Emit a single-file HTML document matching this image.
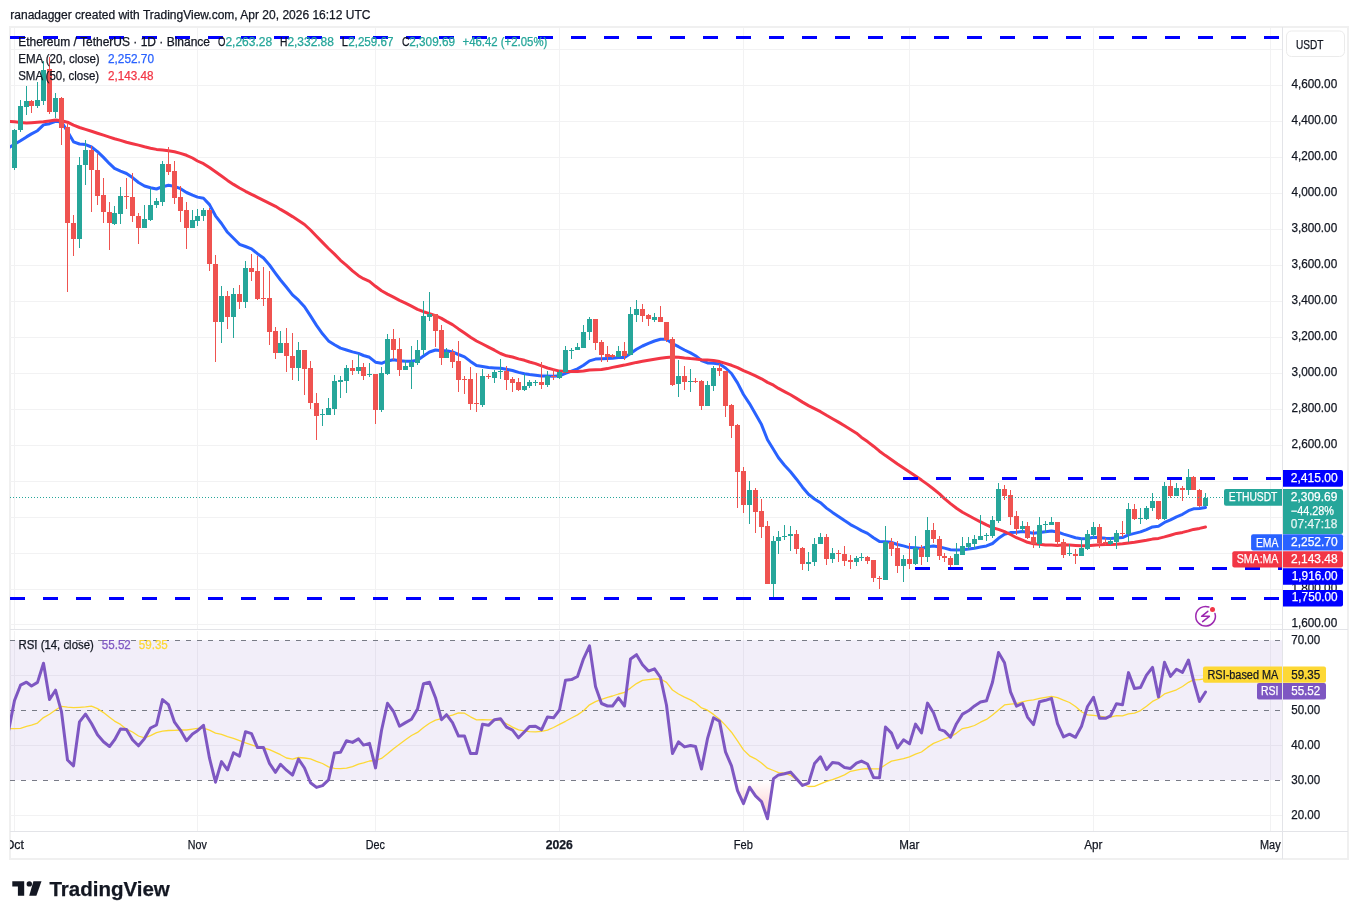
<!DOCTYPE html>
<html><head><meta charset="utf-8"><title>ETHUSDT chart</title>
<style>
html,body{margin:0;padding:0;background:#fff;}
body{width:1358px;height:919px;overflow:hidden;}
svg{display:block;}
text{font-family:'Liberation Sans', Arial, sans-serif;}
</style></head><body>
<svg width="1358" height="919" viewBox="0 0 1358 919">
<rect width="1358" height="919" fill="#ffffff"/>

<text x="10.3" y="19" font-size="12" fill="#131722" stroke="#131722" stroke-width="0.25" textLength="360.2" lengthAdjust="spacingAndGlyphs">ranadagger created with TradingView.com, Apr 20, 2026 16:12 UTC</text>
<rect x="10" y="27" width="1338" height="832" fill="none" stroke="#f0f0f0" stroke-width="2"/>
<defs><clipPath id="mp"><rect x="10" y="28" width="1272" height="601"/></clipPath><clipPath id="rp"><rect x="10" y="631" width="1272" height="200"/></clipPath></defs>
<path d="M10 624.5H1282M10 589.5H1282M10 553.5H1282M10 517.5H1282M10 481.5H1282M10 445.5H1282M10 409.5H1282M10 373.5H1282M10 337.5H1282M10 301.5H1282M10 265.5H1282M10 229.5H1282M10 193.5H1282M10 157.5H1282M10 121.5H1282M10 85.5H1282M10 49.5H1282M14.5 28V629M14.5 631V831M197.5 28V629M197.5 631V831M375.5 28V629M375.5 631V831M559.5 28V629M559.5 631V831M743.5 28V629M743.5 631V831M909.5 28V629M909.5 631V831M1093.5 28V629M1093.5 631V831M1270.5 28V629M1270.5 631V831M10 675.5H1282M10 745.5H1282M10 815.5H1282" stroke="#f2f2f3" stroke-width="1" fill="none"/>
<rect x="10" y="640.2" width="1272" height="140.0" fill="#7e57c2" fill-opacity="0.1"/>
<path d="M10 640.5H1282" stroke="#787b86" stroke-width="1" stroke-dasharray="5 6"/>
<path d="M10 710.5H1282" stroke="#787b86" stroke-width="1" stroke-dasharray="5 6"/>
<path d="M10 780.5H1282" stroke="#787b86" stroke-width="1" stroke-dasharray="5 6"/>
<path d="M10 629.5H1348" stroke="#e3e4e8" stroke-width="1"/>
<path d="M10 831.5H1348" stroke="#e3e4e8" stroke-width="1"/>
<path d="M1282.5 27V859" stroke="#e3e4e8" stroke-width="1"/>
<g clip-path="url(#mp)">
<polyline points="8.5,147.8 14.5,144.3 20.5,140.7 26.5,136.9 31.5,133.9 37.5,130.7 43.5,124.9 49.5,123.7 55.5,121.3 61.5,121.9 67.5,131.5 73.5,141.8 79.5,144.0 85.5,144.6 91.5,147.0 97.5,151.6 103.5,157.4 109.5,163.7 114.5,168.4 120.5,171.1 126.5,173.5 132.5,177.6 138.5,182.5 144.5,186.0 150.5,187.8 156.5,189.0 162.5,186.7 168.5,185.2 174.5,186.4 180.5,188.7 186.5,192.5 192.5,195.1 197.5,197.1 203.5,198.3 209.5,204.6 215.5,215.8 221.5,223.5 227.5,232.3 233.5,238.2 239.5,244.3 245.5,246.5 251.5,248.9 257.5,253.7 263.5,258.0 269.5,265.0 275.5,273.3 280.5,280.0 286.5,287.3 292.5,294.9 298.5,300.2 304.5,306.7 310.5,315.9 316.5,325.4 322.5,333.8 328.5,340.9 334.5,344.7 340.5,348.1 346.5,350.0 352.5,351.9 358.5,353.4 363.5,355.5 369.5,357.3 375.5,362.2 381.5,363.3 387.5,360.9 393.5,359.8 399.5,360.8 405.5,361.3 411.5,361.3 417.5,360.3 423.5,356.0 429.5,352.0 435.5,350.0 441.5,350.7 446.5,350.8 452.5,351.9 458.5,354.5 464.5,356.9 470.5,361.4 476.5,365.5 482.5,366.5 488.5,367.5 494.5,367.9 500.5,368.2 506.5,369.3 512.5,370.5 518.5,372.4 524.5,373.7 529.5,374.5 535.5,375.2 541.5,376.1 547.5,376.1 553.5,376.2 559.5,375.8 565.5,373.4 571.5,371.1 577.5,368.8 583.5,365.3 589.5,360.9 595.5,359.1 601.5,358.7 607.5,358.5 612.5,358.3 618.5,357.6 624.5,357.5 630.5,353.4 636.5,349.2 642.5,346.0 648.5,343.4 654.5,341.0 660.5,339.2 666.5,339.3 672.5,343.6 678.5,346.7 684.5,350.0 690.5,352.9 695.5,355.7 701.5,360.5 707.5,362.9 713.5,363.3 719.5,364.1 725.5,368.0 731.5,373.5 737.5,382.9 743.5,394.5 749.5,403.6 755.5,413.9 761.5,424.6 767.5,439.8 773.5,449.5 778.5,457.8 784.5,465.3 790.5,471.8 796.5,479.2 802.5,487.2 808.5,494.3 814.5,499.0 820.5,502.7 826.5,508.1 832.5,512.4 838.5,516.4 844.5,520.6 850.5,524.6 856.5,527.8 861.5,530.6 867.5,533.4 873.5,537.7 879.5,541.6 885.5,541.7 891.5,542.3 897.5,544.5 903.5,545.9 909.5,547.6 915.5,547.7 921.5,548.5 927.5,546.8 933.5,546.1 939.5,547.0 944.5,548.1 950.5,549.7 956.5,550.1 962.5,549.7 968.5,549.1 974.5,548.2 980.5,547.0 986.5,545.9 992.5,543.5 998.5,538.3 1004.5,534.2 1010.5,532.6 1016.5,532.2 1022.5,531.6 1027.5,532.2 1033.5,533.3 1039.5,532.6 1045.5,531.8 1051.5,530.9 1057.5,532.0 1063.5,534.1 1069.5,535.9 1075.5,537.8 1081.5,538.8 1087.5,538.4 1093.5,537.3 1099.5,537.8 1105.5,538.3 1110.5,538.6 1116.5,538.0 1122.5,537.6 1128.5,534.9 1134.5,533.4 1140.5,531.9 1146.5,529.6 1152.5,526.9 1158.5,526.2 1164.5,522.4 1170.5,519.8 1176.5,516.8 1182.5,514.3 1188.5,510.7 1193.5,508.8 1199.5,508.6 1205.5,507.5" fill="none" stroke="#2962ff" stroke-width="3" stroke-linejoin="round" stroke-linecap="round"/>
<polyline points="8.5,121.3 14.5,121.7 20.5,122.6 26.5,123.1 31.5,122.7 37.5,122.2 43.5,121.8 49.5,120.9 55.5,119.9 61.5,120.7 67.5,122.2 73.5,125.2 79.5,127.5 85.5,129.4 91.5,131.3 97.5,133.2 103.5,135.2 109.5,137.1 114.5,138.7 120.5,140.4 126.5,142.3 132.5,143.7 138.5,145.1 144.5,146.8 150.5,148.2 156.5,149.4 162.5,150.1 168.5,150.8 174.5,151.8 180.5,153.4 186.5,155.3 192.5,158.0 197.5,161.0 203.5,163.7 209.5,167.6 215.5,171.8 221.5,176.0 227.5,180.4 233.5,184.4 239.5,188.0 245.5,191.3 251.5,194.3 257.5,197.3 263.5,200.3 269.5,203.3 275.5,206.3 280.5,209.4 286.5,212.9 292.5,216.6 298.5,220.5 304.5,224.5 310.5,230.0 316.5,236.2 322.5,242.4 328.5,248.5 334.5,254.1 340.5,260.3 346.5,265.4 352.5,270.9 358.5,275.7 363.5,278.7 369.5,281.4 375.5,286.3 381.5,290.8 387.5,294.1 393.5,297.2 399.5,300.4 405.5,303.2 411.5,306.2 417.5,309.3 423.5,311.7 429.5,313.6 435.5,315.6 441.5,318.4 446.5,321.4 452.5,324.6 458.5,328.9 464.5,333.0 470.5,337.2 476.5,341.0 482.5,344.0 488.5,347.1 494.5,350.2 500.5,353.5 506.5,355.8 512.5,357.0 518.5,358.9 524.5,360.3 529.5,362.0 535.5,363.6 541.5,365.9 547.5,368.0 553.5,369.6 559.5,371.1 565.5,371.4 571.5,371.4 577.5,371.5 583.5,371.0 589.5,370.0 595.5,369.8 601.5,369.6 607.5,368.6 612.5,367.4 618.5,366.2 624.5,365.1 630.5,363.8 636.5,362.4 642.5,361.3 648.5,360.3 654.5,359.3 660.5,358.3 666.5,357.6 672.5,357.1 678.5,357.2 684.5,358.0 690.5,358.6 695.5,358.9 701.5,359.7 707.5,360.1 713.5,360.5 719.5,361.6 725.5,363.4 731.5,365.3 737.5,367.6 743.5,370.7 749.5,373.2 755.5,375.9 761.5,378.8 767.5,382.4 773.5,385.2 778.5,388.4 784.5,391.6 790.5,394.8 796.5,398.4 802.5,402.1 808.5,405.6 814.5,408.7 820.5,411.7 826.5,415.3 832.5,418.7 838.5,422.1 844.5,425.8 850.5,429.5 856.5,433.2 861.5,437.4 867.5,441.6 873.5,446.2 879.5,451.2 885.5,455.6 891.5,459.7 897.5,464.0 903.5,468.0 909.5,472.1 915.5,476.1 921.5,480.1 927.5,484.4 933.5,489.0 939.5,493.8 944.5,498.6 950.5,503.6 956.5,508.2 962.5,512.3 968.5,515.5 974.5,518.7 980.5,521.8 986.5,524.9 992.5,527.7 998.5,529.4 1004.5,531.6 1010.5,534.5 1016.5,537.7 1022.5,540.1 1027.5,542.3 1033.5,543.8 1039.5,544.2 1045.5,544.9 1051.5,545.1 1057.5,545.4 1063.5,544.8 1069.5,545.0 1075.5,545.4 1081.5,545.7 1087.5,545.7 1093.5,545.2 1099.5,544.8 1105.5,544.4 1110.5,544.4 1116.5,544.3 1122.5,543.8 1128.5,542.9 1134.5,542.2 1140.5,541.3 1146.5,540.3 1152.5,539.1 1158.5,538.4 1164.5,536.9 1170.5,535.2 1176.5,533.4 1182.5,532.4 1188.5,530.9 1193.5,529.4 1199.5,528.4 1205.5,527.0" fill="none" stroke="#f23645" stroke-width="3" stroke-linejoin="round" stroke-linecap="round"/>
<path d="M14.5 129V170M20.5 100V132M26.5 86V115M37.5 82V108M43.5 61V105M55.5 93V118M79.5 157V248M85.5 140V185M114.5 206V225M120.5 187V224M144.5 205V228M150.5 188V221M156.5 198V208M162.5 161V206M192.5 210V228M197.5 209V226M203.5 208V221M221.5 286V343M233.5 288V338M245.5 261V308M280.5 331V353M298.5 342V381M322.5 409V426M328.5 398V415M334.5 375V415M340.5 376V398M346.5 365V393M358.5 354V374M369.5 363V377M381.5 367V412M387.5 334V375M405.5 360V370M411.5 346V389M417.5 340V365M423.5 301V355M429.5 292V321M446.5 348V358M482.5 369V407M494.5 370V383M500.5 359V379M524.5 374V391M529.5 380V388M535.5 380V386M547.5 371V387M559.5 370V379M565.5 346V373M571.5 348V359M577.5 343V350M583.5 325V348M589.5 317V340M618.5 346V357M630.5 307V355M636.5 300V322M654.5 313V322M678.5 360V397M690.5 369V392M707.5 381V406M713.5 366V391M749.5 481V524M773.5 536V597M778.5 531V554M784.5 525V540M790.5 526V551M808.5 552V571M814.5 538V566M820.5 533V544M832.5 548V563M856.5 556V566M861.5 553V561M885.5 526V580M903.5 555V582M915.5 536V565M927.5 517V562M956.5 543V565M962.5 537V555M968.5 537V550M974.5 535V549M980.5 515V540M986.5 533V541M992.5 516V538M998.5 483V523M1022.5 521V532M1039.5 517V548M1045.5 521V533M1051.5 517V525M1069.5 544V556M1081.5 538V556M1087.5 530V550M1093.5 522V538M1110.5 537V545M1116.5 530V549M1128.5 503V542M1140.5 508V524M1146.5 506V520M1152.5 493V511M1164.5 482V520M1176.5 483V496M1188.5 469V495M1205.5 493V506" stroke="#26a69a" stroke-width="1" fill="none"/>
<path d="M12.0 130h5V168h-5ZM18.0 106h5V130h-5ZM24.0 101h5V107h-5ZM35.0 100h5V106h-5ZM41.0 70h5V101h-5ZM53.0 98h5V112h-5ZM77.0 165h5V239h-5ZM83.0 150h5V165h-5ZM112.0 213h5V224h-5ZM118.0 196h5V214h-5ZM142.0 219h5V228h-5ZM148.0 205h5V220h-5ZM154.0 201h5V205h-5ZM160.0 164h5V202h-5ZM190.0 220h5V228h-5ZM195.0 216h5V221h-5ZM201.0 210h5V216h-5ZM219.0 296h5V322h-5ZM231.0 294h5V317h-5ZM243.0 268h5V302h-5ZM278.0 343h5V353h-5ZM296.0 350h5V368h-5ZM320.0 414h5V415h-5ZM326.0 408h5V415h-5ZM332.0 381h5V409h-5ZM338.0 380h5V382h-5ZM344.0 368h5V381h-5ZM356.0 367h5V371h-5ZM367.0 374h5V375h-5ZM379.0 373h5V410h-5ZM385.0 339h5V374h-5ZM403.0 366h5V370h-5ZM409.0 362h5V367h-5ZM415.0 350h5V363h-5ZM421.0 316h5V350h-5ZM427.0 314h5V317h-5ZM444.0 352h5V358h-5ZM480.0 376h5V405h-5ZM492.0 372h5V378h-5ZM498.0 371h5V372h-5ZM522.0 386h5V390h-5ZM527.0 382h5V386h-5ZM533.0 382h5V383h-5ZM545.0 376h5V385h-5ZM557.0 372h5V378h-5ZM563.0 350h5V372h-5ZM569.0 350h5V351h-5ZM575.0 347h5V350h-5ZM581.0 332h5V348h-5ZM587.0 319h5V332h-5ZM616.0 351h5V357h-5ZM628.0 314h5V355h-5ZM634.0 309h5V315h-5ZM652.0 317h5V320h-5ZM676.0 376h5V384h-5ZM688.0 381h5V382h-5ZM705.0 385h5V406h-5ZM711.0 368h5V386h-5ZM747.0 490h5V505h-5ZM771.0 541h5V584h-5ZM776.0 537h5V541h-5ZM782.0 536h5V537h-5ZM788.0 534h5V536h-5ZM806.0 562h5V564h-5ZM812.0 544h5V562h-5ZM818.0 537h5V544h-5ZM830.0 553h5V559h-5ZM854.0 558h5V562h-5ZM859.0 557h5V558h-5ZM883.0 542h5V580h-5ZM901.0 559h5V566h-5ZM913.0 548h5V564h-5ZM925.0 530h5V557h-5ZM954.0 554h5V565h-5ZM960.0 546h5V555h-5ZM966.0 543h5V547h-5ZM972.0 539h5V544h-5ZM978.0 536h5V540h-5ZM984.0 535h5V536h-5ZM990.0 520h5V536h-5ZM996.0 489h5V521h-5ZM1020.0 526h5V529h-5ZM1037.0 525h5V544h-5ZM1043.0 524h5V525h-5ZM1049.0 522h5V525h-5ZM1067.0 553h5V554h-5ZM1079.0 548h5V556h-5ZM1085.0 534h5V549h-5ZM1091.0 527h5V535h-5ZM1108.0 541h5V544h-5ZM1114.0 533h5V542h-5ZM1126.0 509h5V534h-5ZM1138.0 518h5V519h-5ZM1144.0 508h5V519h-5ZM1150.0 501h5V508h-5ZM1162.0 486h5V519h-5ZM1174.0 488h5V496h-5ZM1186.0 477h5V490h-5ZM1203.0 498h5V506h-5Z" fill="#26a69a"/>
<path d="M31.5 100V113M49.5 57V114M61.5 97V145M67.5 123V292M73.5 215V256M91.5 146V212M97.5 154V205M103.5 178V223M109.5 202V250M126.5 178V209M132.5 173V222M138.5 213V244M168.5 147V175M174.5 161V204M180.5 186V222M186.5 202V249M209.5 208V271M215.5 255V362M227.5 291V329M239.5 285V309M251.5 254V281M257.5 256V300M263.5 267V306M269.5 271V345M275.5 327V359M286.5 328V372M292.5 333V380M304.5 350V395M310.5 361V409M316.5 393V440M352.5 360V375M363.5 363V380M375.5 374V424M393.5 329V360M399.5 338V376M435.5 314V347M441.5 325V365M452.5 349V368M458.5 341V392M464.5 376V394M470.5 367V410M476.5 373V412M488.5 374V379M506.5 366V390M512.5 377V392M518.5 378V391M541.5 362V389M553.5 369V380M595.5 319V350M601.5 340V362M607.5 346V362M612.5 354V358M624.5 342V360M642.5 304V322M648.5 314V326M660.5 306V322M666.5 322V342M672.5 337V386M684.5 366V390M695.5 378V383M701.5 380V410M719.5 364V376M725.5 371V417M731.5 404V438M737.5 424V508M743.5 467V513M755.5 488V533M761.5 499V538M767.5 521V584M796.5 530V554M802.5 547V570M826.5 534V565M838.5 550V562M844.5 546V566M850.5 555V569M867.5 556V564M873.5 560V582M879.5 576V589M891.5 538V556M897.5 541V573M909.5 543V569M921.5 545V565M933.5 523V543M939.5 536V560M944.5 553V562M950.5 556V568M1004.5 485V500M1010.5 490V525M1016.5 511V535M1027.5 522V539M1033.5 530V548M1057.5 522V546M1063.5 539V558M1075.5 549V564M1099.5 524V548M1105.5 538V545M1122.5 521V537M1134.5 504V520M1158.5 501V520M1170.5 478V498M1182.5 486V501M1193.5 476V490M1199.5 489V507" stroke="#ef5350" stroke-width="1" fill="none"/>
<path d="M29.0 101h5V106h-5ZM47.0 69h5V112h-5ZM59.0 98h5V128h-5ZM65.0 127h5V223h-5ZM71.0 223h5V239h-5ZM89.0 150h5V170h-5ZM95.0 170h5V196h-5ZM101.0 195h5V212h-5ZM107.0 212h5V223h-5ZM124.0 196h5V197h-5ZM130.0 197h5V216h-5ZM136.0 216h5V228h-5ZM166.0 164h5V172h-5ZM172.0 171h5V198h-5ZM178.0 197h5V211h-5ZM184.0 210h5V228h-5ZM207.0 210h5V264h-5ZM213.0 264h5V322h-5ZM225.0 296h5V317h-5ZM237.0 294h5V302h-5ZM249.0 268h5V272h-5ZM255.0 271h5V299h-5ZM261.0 298h5V299h-5ZM267.0 298h5V332h-5ZM273.0 331h5V353h-5ZM284.0 343h5V356h-5ZM290.0 356h5V368h-5ZM302.0 350h5V369h-5ZM308.0 368h5V403h-5ZM314.0 403h5V416h-5ZM350.0 368h5V371h-5ZM361.0 367h5V376h-5ZM373.0 374h5V410h-5ZM391.0 339h5V350h-5ZM397.0 349h5V370h-5ZM433.0 314h5V331h-5ZM439.0 330h5V358h-5ZM450.0 352h5V362h-5ZM456.0 361h5V380h-5ZM462.0 379h5V380h-5ZM468.0 379h5V404h-5ZM474.0 403h5V404h-5ZM486.0 376h5V377h-5ZM504.0 371h5V380h-5ZM510.0 379h5V383h-5ZM516.0 382h5V390h-5ZM539.0 382h5V385h-5ZM551.0 376h5V377h-5ZM593.0 319h5V343h-5ZM599.0 342h5V355h-5ZM605.0 354h5V357h-5ZM610.0 355h5V357h-5ZM622.0 351h5V356h-5ZM640.0 309h5V316h-5ZM646.0 315h5V319h-5ZM658.0 317h5V322h-5ZM664.0 322h5V340h-5ZM670.0 339h5V385h-5ZM682.0 376h5V382h-5ZM693.0 381h5V382h-5ZM699.0 381h5V406h-5ZM717.0 368h5V371h-5ZM723.0 371h5V406h-5ZM729.0 405h5V426h-5ZM735.0 425h5V472h-5ZM741.0 471h5V505h-5ZM753.0 490h5V512h-5ZM759.0 511h5V527h-5ZM765.0 526h5V584h-5ZM794.0 534h5V549h-5ZM800.0 548h5V564h-5ZM824.0 537h5V559h-5ZM836.0 553h5V554h-5ZM842.0 554h5V561h-5ZM848.0 560h5V562h-5ZM865.0 557h5V561h-5ZM871.0 560h5V578h-5ZM877.0 578h5V579h-5ZM889.0 542h5V549h-5ZM895.0 548h5V566h-5ZM907.0 559h5V564h-5ZM919.0 548h5V557h-5ZM931.0 530h5V539h-5ZM937.0 539h5V556h-5ZM942.0 556h5V558h-5ZM948.0 558h5V565h-5ZM1002.0 489h5V496h-5ZM1008.0 495h5V517h-5ZM1014.0 516h5V529h-5ZM1025.0 526h5V538h-5ZM1031.0 537h5V544h-5ZM1055.0 522h5V542h-5ZM1061.0 542h5V555h-5ZM1073.0 554h5V556h-5ZM1097.0 527h5V543h-5ZM1103.0 542h5V543h-5ZM1120.0 533h5V534h-5ZM1132.0 509h5V519h-5ZM1156.0 501h5V519h-5ZM1168.0 486h5V496h-5ZM1180.0 488h5V490h-5ZM1191.0 477h5V490h-5ZM1197.0 490h5V506h-5Z" fill="#ef5350"/>
<path d="M10 37.5H1282" stroke="#0000ff" stroke-width="3" stroke-dasharray="15 18"/>
<path d="M903 478.5H1282" stroke="#0000ff" stroke-width="3" stroke-dasharray="15 18"/>
<path d="M915 568.5H1282" stroke="#0000ff" stroke-width="3" stroke-dasharray="15 18"/>
<path d="M10 598.5H1282" stroke="#0000ff" stroke-width="3" stroke-dasharray="15 18"/>
<path d="M10 497.5H1224" stroke="#26a69a" stroke-width="1" stroke-dasharray="1 2"/>
</g>
<g clip-path="url(#rp)">
<defs><linearGradient id="os" gradientUnits="userSpaceOnUse" x1="0" y1="780.2" x2="0" y2="885.2"><stop offset="0" stop-color="#ff3030" stop-opacity="0"/><stop offset="1" stop-color="#ff3030" stop-opacity="0.7"/></linearGradient><clipPath id="osc"><rect x="10" y="780.2" width="1272" height="60"/></clipPath></defs>
<polygon clip-path="url(#osc)" points="8.5,731.2 14.5,700.5 20.5,685.2 26.5,682.2 31.5,686.0 37.5,682.4 43.5,663.2 49.5,699.5 55.5,690.2 61.5,711.9 67.5,760.0 73.5,765.8 79.5,721.8 85.5,714.1 91.5,723.5 97.5,734.8 103.5,741.8 109.5,746.5 114.5,739.9 120.5,729.1 126.5,729.5 132.5,739.7 138.5,745.8 144.5,738.6 150.5,728.0 156.5,725.0 162.5,699.6 168.5,704.7 174.5,722.2 180.5,730.3 186.5,740.8 192.5,733.9 197.5,730.7 203.5,725.3 209.5,758.2 215.5,782.2 221.5,761.6 227.5,769.9 233.5,752.7 239.5,756.1 245.5,731.7 251.5,733.7 257.5,747.6 263.5,747.6 269.5,763.4 275.5,772.3 280.5,764.3 286.5,770.2 292.5,775.1 298.5,759.1 304.5,768.0 310.5,782.8 316.5,787.4 322.5,785.6 328.5,779.8 334.5,752.9 340.5,752.3 346.5,740.8 352.5,742.4 358.5,738.9 363.5,745.1 369.5,743.4 375.5,767.9 381.5,730.5 387.5,703.3 393.5,711.5 399.5,726.2 405.5,722.6 411.5,719.2 417.5,709.1 423.5,683.6 429.5,682.2 435.5,697.7 441.5,719.7 446.5,714.7 452.5,722.6 458.5,736.1 464.5,736.1 470.5,753.4 476.5,753.4 482.5,724.3 488.5,725.3 494.5,719.7 500.5,718.7 506.5,727.2 512.5,730.1 518.5,737.8 524.5,731.8 529.5,726.5 535.5,726.2 541.5,729.8 547.5,716.9 553.5,717.8 559.5,710.0 565.5,680.3 571.5,679.6 577.5,676.5 583.5,658.8 589.5,645.9 595.5,686.5 601.5,703.5 607.5,706.0 612.5,706.0 618.5,697.9 624.5,706.0 630.5,658.9 636.5,654.7 642.5,664.7 648.5,671.1 654.5,668.9 660.5,677.5 666.5,705.3 672.5,753.6 678.5,741.9 684.5,746.9 690.5,745.5 695.5,746.5 701.5,769.0 707.5,738.7 713.5,717.8 719.5,721.2 725.5,751.9 731.5,765.9 737.5,790.7 743.5,803.6 749.5,787.2 755.5,795.9 761.5,801.6 767.5,818.8 773.5,778.6 778.5,774.9 784.5,773.8 790.5,772.1 796.5,778.8 802.5,785.4 808.5,783.2 814.5,763.6 820.5,756.8 826.5,769.4 832.5,762.6 838.5,763.3 844.5,767.4 850.5,768.4 856.5,763.1 861.5,761.1 867.5,764.0 873.5,777.4 879.5,777.7 885.5,727.0 891.5,733.1 897.5,747.9 903.5,739.8 909.5,743.8 915.5,724.1 921.5,732.9 927.5,703.1 933.5,712.7 939.5,729.3 944.5,731.1 950.5,737.2 956.5,723.7 962.5,714.1 968.5,710.8 974.5,705.9 980.5,702.0 986.5,700.8 992.5,682.2 998.5,652.5 1004.5,662.7 1010.5,691.9 1016.5,706.2 1022.5,703.5 1027.5,717.1 1033.5,724.6 1039.5,701.7 1045.5,700.3 1051.5,698.3 1057.5,723.6 1063.5,736.9 1069.5,734.2 1075.5,737.3 1081.5,726.2 1087.5,706.5 1093.5,697.3 1099.5,718.3 1105.5,718.3 1110.5,715.8 1116.5,703.7 1122.5,704.7 1128.5,672.6 1134.5,688.6 1140.5,687.5 1146.5,675.2 1152.5,667.4 1158.5,696.9 1164.5,662.3 1170.5,676.4 1176.5,669.2 1182.5,672.4 1188.5,660.0 1193.5,680.4 1199.5,701.5 1205.5,692.0 1205.5,780.2 8.5,780.2" fill="url(#os)"/>
<polyline points="8.5,728.5 14.5,728.7 20.5,728.3 26.5,726.4 31.5,725.1 37.5,723.1 43.5,717.6 49.5,714.2 55.5,710.0 61.5,706.3 67.5,707.1 73.5,707.6 79.5,707.3 85.5,706.9 91.5,706.2 97.5,708.6 103.5,712.6 109.5,717.2 114.5,721.1 120.5,724.4 126.5,729.2 132.5,732.0 138.5,736.0 144.5,737.9 150.5,735.6 156.5,732.7 162.5,731.1 168.5,730.5 174.5,730.4 180.5,730.0 186.5,730.0 192.5,729.1 197.5,728.4 203.5,728.2 209.5,730.2 215.5,733.2 221.5,734.4 227.5,736.6 233.5,738.4 239.5,740.6 245.5,742.9 251.5,744.9 257.5,746.8 263.5,748.0 269.5,749.6 275.5,752.3 280.5,754.7 286.5,758.0 292.5,759.2 298.5,757.5 304.5,758.0 310.5,758.9 316.5,761.4 322.5,763.5 328.5,766.9 334.5,768.3 340.5,768.6 346.5,768.1 352.5,766.6 358.5,764.2 363.5,762.9 369.5,761.0 375.5,760.5 381.5,758.4 387.5,753.8 393.5,748.7 399.5,744.3 405.5,739.8 411.5,735.5 417.5,732.4 423.5,727.5 429.5,723.3 435.5,720.1 441.5,718.7 446.5,716.6 452.5,715.1 458.5,712.8 464.5,713.2 470.5,716.8 476.5,719.8 482.5,719.6 488.5,719.8 494.5,719.9 500.5,720.5 506.5,723.7 512.5,727.1 518.5,729.9 524.5,730.8 529.5,731.6 535.5,731.9 541.5,731.4 547.5,730.1 553.5,727.5 559.5,724.4 565.5,721.3 571.5,718.0 577.5,714.9 583.5,710.7 589.5,704.8 595.5,701.7 601.5,699.3 607.5,697.4 612.5,696.0 618.5,694.0 624.5,692.3 630.5,688.1 636.5,683.6 642.5,680.4 648.5,679.7 654.5,679.0 660.5,679.0 666.5,682.4 672.5,690.0 678.5,694.0 684.5,697.1 690.5,699.9 695.5,702.8 701.5,707.9 707.5,710.2 713.5,714.4 719.5,719.2 725.5,725.4 731.5,732.2 737.5,740.9 743.5,749.9 749.5,755.8 755.5,758.8 761.5,763.0 767.5,768.2 773.5,770.5 778.5,772.6 784.5,772.9 790.5,775.3 796.5,779.7 802.5,784.2 808.5,786.5 814.5,786.3 820.5,783.9 826.5,781.4 832.5,779.7 838.5,777.4 844.5,774.9 850.5,771.3 856.5,770.2 861.5,769.2 867.5,768.5 873.5,768.9 879.5,768.8 885.5,764.7 891.5,761.1 897.5,759.9 903.5,758.7 909.5,756.9 915.5,754.2 921.5,752.0 927.5,747.4 933.5,743.4 939.5,741.0 944.5,738.9 950.5,736.9 956.5,733.1 962.5,728.6 968.5,727.4 974.5,725.5 980.5,722.2 986.5,719.4 992.5,715.0 998.5,709.9 1004.5,704.9 1010.5,704.1 1016.5,703.6 1022.5,701.8 1027.5,700.7 1033.5,699.8 1039.5,698.3 1045.5,697.3 1051.5,696.4 1057.5,697.7 1063.5,700.2 1069.5,702.5 1075.5,706.5 1081.5,711.7 1087.5,714.9 1093.5,715.3 1099.5,716.1 1105.5,717.2 1110.5,717.1 1116.5,715.6 1122.5,715.8 1128.5,713.8 1134.5,713.1 1140.5,710.6 1146.5,706.2 1152.5,701.4 1158.5,698.5 1164.5,693.9 1170.5,691.8 1176.5,689.8 1182.5,686.5 1188.5,682.3 1193.5,679.8 1199.5,679.6 1205.5,678.7" fill="none" stroke="#fdd835" stroke-width="1.3" stroke-linejoin="round"/>
<polyline points="8.5,731.2 14.5,700.5 20.5,685.2 26.5,682.2 31.5,686.0 37.5,682.4 43.5,663.2 49.5,699.5 55.5,690.2 61.5,711.9 67.5,760.0 73.5,765.8 79.5,721.8 85.5,714.1 91.5,723.5 97.5,734.8 103.5,741.8 109.5,746.5 114.5,739.9 120.5,729.1 126.5,729.5 132.5,739.7 138.5,745.8 144.5,738.6 150.5,728.0 156.5,725.0 162.5,699.6 168.5,704.7 174.5,722.2 180.5,730.3 186.5,740.8 192.5,733.9 197.5,730.7 203.5,725.3 209.5,758.2 215.5,782.2 221.5,761.6 227.5,769.9 233.5,752.7 239.5,756.1 245.5,731.7 251.5,733.7 257.5,747.6 263.5,747.6 269.5,763.4 275.5,772.3 280.5,764.3 286.5,770.2 292.5,775.1 298.5,759.1 304.5,768.0 310.5,782.8 316.5,787.4 322.5,785.6 328.5,779.8 334.5,752.9 340.5,752.3 346.5,740.8 352.5,742.4 358.5,738.9 363.5,745.1 369.5,743.4 375.5,767.9 381.5,730.5 387.5,703.3 393.5,711.5 399.5,726.2 405.5,722.6 411.5,719.2 417.5,709.1 423.5,683.6 429.5,682.2 435.5,697.7 441.5,719.7 446.5,714.7 452.5,722.6 458.5,736.1 464.5,736.1 470.5,753.4 476.5,753.4 482.5,724.3 488.5,725.3 494.5,719.7 500.5,718.7 506.5,727.2 512.5,730.1 518.5,737.8 524.5,731.8 529.5,726.5 535.5,726.2 541.5,729.8 547.5,716.9 553.5,717.8 559.5,710.0 565.5,680.3 571.5,679.6 577.5,676.5 583.5,658.8 589.5,645.9 595.5,686.5 601.5,703.5 607.5,706.0 612.5,706.0 618.5,697.9 624.5,706.0 630.5,658.9 636.5,654.7 642.5,664.7 648.5,671.1 654.5,668.9 660.5,677.5 666.5,705.3 672.5,753.6 678.5,741.9 684.5,746.9 690.5,745.5 695.5,746.5 701.5,769.0 707.5,738.7 713.5,717.8 719.5,721.2 725.5,751.9 731.5,765.9 737.5,790.7 743.5,803.6 749.5,787.2 755.5,795.9 761.5,801.6 767.5,818.8 773.5,778.6 778.5,774.9 784.5,773.8 790.5,772.1 796.5,778.8 802.5,785.4 808.5,783.2 814.5,763.6 820.5,756.8 826.5,769.4 832.5,762.6 838.5,763.3 844.5,767.4 850.5,768.4 856.5,763.1 861.5,761.1 867.5,764.0 873.5,777.4 879.5,777.7 885.5,727.0 891.5,733.1 897.5,747.9 903.5,739.8 909.5,743.8 915.5,724.1 921.5,732.9 927.5,703.1 933.5,712.7 939.5,729.3 944.5,731.1 950.5,737.2 956.5,723.7 962.5,714.1 968.5,710.8 974.5,705.9 980.5,702.0 986.5,700.8 992.5,682.2 998.5,652.5 1004.5,662.7 1010.5,691.9 1016.5,706.2 1022.5,703.5 1027.5,717.1 1033.5,724.6 1039.5,701.7 1045.5,700.3 1051.5,698.3 1057.5,723.6 1063.5,736.9 1069.5,734.2 1075.5,737.3 1081.5,726.2 1087.5,706.5 1093.5,697.3 1099.5,718.3 1105.5,718.3 1110.5,715.8 1116.5,703.7 1122.5,704.7 1128.5,672.6 1134.5,688.6 1140.5,687.5 1146.5,675.2 1152.5,667.4 1158.5,696.9 1164.5,662.3 1170.5,676.4 1176.5,669.2 1182.5,672.4 1188.5,660.0 1193.5,680.4 1199.5,701.5 1205.5,692.0" fill="none" stroke="#7e57c2" stroke-width="3" stroke-linejoin="round" stroke-linecap="round"/>
</g>
<text x="18.2" y="45.5" font-size="12" fill="#131722" stroke="#131722" stroke-width="0.25" textLength="191.8" lengthAdjust="spacingAndGlyphs">Ethereum / TetherUS · 1D · Binance</text>
<text x="218" y="45.5" font-size="12" fill="#131722" stroke="#131722" stroke-width="0.25" textLength="7.4" lengthAdjust="spacingAndGlyphs">O</text>
<text x="225.4" y="45.5" font-size="12" fill="#26a69a" stroke="#26a69a" stroke-width="0.25" textLength="46.7" lengthAdjust="spacingAndGlyphs">2,263.28</text>
<text x="280" y="45.5" font-size="12" fill="#131722" stroke="#131722" stroke-width="0.25" textLength="7.4" lengthAdjust="spacingAndGlyphs">H</text>
<text x="287.4" y="45.5" font-size="12" fill="#26a69a" stroke="#26a69a" stroke-width="0.25" textLength="46.5" lengthAdjust="spacingAndGlyphs">2,332.88</text>
<text x="341.8" y="45.5" font-size="12" fill="#131722" stroke="#131722" stroke-width="0.25" textLength="6.2" lengthAdjust="spacingAndGlyphs">L</text>
<text x="348.2" y="45.5" font-size="12" fill="#26a69a" stroke="#26a69a" stroke-width="0.25" textLength="45.3" lengthAdjust="spacingAndGlyphs">2,259.67</text>
<text x="402" y="45.5" font-size="12" fill="#131722" stroke="#131722" stroke-width="0.25" textLength="7.5" lengthAdjust="spacingAndGlyphs">C</text>
<text x="409.3" y="45.5" font-size="12" fill="#26a69a" stroke="#26a69a" stroke-width="0.25" textLength="45.7" lengthAdjust="spacingAndGlyphs">2,309.69</text>
<text x="462.5" y="45.5" font-size="12" fill="#26a69a" stroke="#26a69a" stroke-width="0.25" textLength="84.8" lengthAdjust="spacingAndGlyphs">+46.42 (+2.05%)</text>
<text x="18.2" y="62.5" font-size="12" fill="#131722" stroke="#131722" stroke-width="0.25" textLength="81.5" lengthAdjust="spacingAndGlyphs">EMA (20, close)</text>
<text x="108" y="62.5" font-size="12" fill="#2962ff" stroke="#2962ff" stroke-width="0.25" textLength="46" lengthAdjust="spacingAndGlyphs">2,252.70</text>
<text x="18.2" y="79.5" font-size="12" fill="#131722" stroke="#131722" stroke-width="0.25" textLength="81" lengthAdjust="spacingAndGlyphs">SMA (50, close)</text>
<text x="108" y="79.5" font-size="12" fill="#f23645" stroke="#f23645" stroke-width="0.25" textLength="45.5" lengthAdjust="spacingAndGlyphs">2,143.48</text>
<text x="18.5" y="649.2" font-size="12" fill="#131722" stroke="#131722" stroke-width="0.25" textLength="75.3" lengthAdjust="spacingAndGlyphs">RSI (14, close)</text>
<text x="101.8" y="649.2" font-size="12" fill="#7e57c2" stroke="#7e57c2" stroke-width="0.25" textLength="29" lengthAdjust="spacingAndGlyphs">55.52</text>
<text x="138.8" y="649.2" font-size="12" fill="#fdd835" stroke="#fdd835" stroke-width="0.25" textLength="29" lengthAdjust="spacingAndGlyphs">59.35</text>
<text x="1291.4" y="627.1" font-size="12" fill="#131722" stroke="#131722" stroke-width="0.25" textLength="45.8" lengthAdjust="spacingAndGlyphs">1,600.00</text>
<text x="1291.4" y="591.9" font-size="12" fill="#131722" stroke="#131722" stroke-width="0.25" textLength="45.8" lengthAdjust="spacingAndGlyphs">1,800.00</text>
<text x="1291.4" y="447.9" font-size="12" fill="#131722" stroke="#131722" stroke-width="0.25" textLength="45.8" lengthAdjust="spacingAndGlyphs">2,600.00</text>
<text x="1291.4" y="411.9" font-size="12" fill="#131722" stroke="#131722" stroke-width="0.25" textLength="45.8" lengthAdjust="spacingAndGlyphs">2,800.00</text>
<text x="1291.4" y="375.9" font-size="12" fill="#131722" stroke="#131722" stroke-width="0.25" textLength="45.8" lengthAdjust="spacingAndGlyphs">3,000.00</text>
<text x="1291.4" y="339.9" font-size="12" fill="#131722" stroke="#131722" stroke-width="0.25" textLength="45.8" lengthAdjust="spacingAndGlyphs">3,200.00</text>
<text x="1291.4" y="303.9" font-size="12" fill="#131722" stroke="#131722" stroke-width="0.25" textLength="45.8" lengthAdjust="spacingAndGlyphs">3,400.00</text>
<text x="1291.4" y="267.9" font-size="12" fill="#131722" stroke="#131722" stroke-width="0.25" textLength="45.8" lengthAdjust="spacingAndGlyphs">3,600.00</text>
<text x="1291.4" y="231.9" font-size="12" fill="#131722" stroke="#131722" stroke-width="0.25" textLength="45.8" lengthAdjust="spacingAndGlyphs">3,800.00</text>
<text x="1291.4" y="195.9" font-size="12" fill="#131722" stroke="#131722" stroke-width="0.25" textLength="45.8" lengthAdjust="spacingAndGlyphs">4,000.00</text>
<text x="1291.4" y="159.9" font-size="12" fill="#131722" stroke="#131722" stroke-width="0.25" textLength="45.8" lengthAdjust="spacingAndGlyphs">4,200.00</text>
<text x="1291.4" y="123.9" font-size="12" fill="#131722" stroke="#131722" stroke-width="0.25" textLength="45.8" lengthAdjust="spacingAndGlyphs">4,400.00</text>
<text x="1291.4" y="87.9" font-size="12" fill="#131722" stroke="#131722" stroke-width="0.25" textLength="45.8" lengthAdjust="spacingAndGlyphs">4,600.00</text>
<text x="1291.4" y="51.9" font-size="12" fill="#131722" stroke="#131722" stroke-width="0.25" textLength="45.8" lengthAdjust="spacingAndGlyphs">4,800.00</text>
<rect x="1286.5" y="31" width="58" height="25.5" rx="5" fill="#fff" stroke="#ebebeb"/>
<text x="1296" y="48.5" font-size="12" fill="#131722" stroke="#131722" stroke-width="0.25" textLength="27.5" lengthAdjust="spacingAndGlyphs">USDT</text>
<path d="M1283 470.1H1341a2 2 0 0 1 2 2V484.8a2 2 0 0 1 -2 2H1283Z" fill="#0000ff"/>
<text x="1290.8" y="482" font-size="12" fill="#fff" stroke="#fff" stroke-width="0.25" textLength="46.8" lengthAdjust="spacingAndGlyphs">2,415.00</text>
<path d="M1283 489.1H1341a2 2 0 0 1 2 2V531.9a2 2 0 0 1 -2 2H1283Z" fill="#26a69a"/>
<text x="1290.8" y="500.9" font-size="12" fill="#fff" stroke="#fff" stroke-width="0.25" textLength="46.5" lengthAdjust="spacingAndGlyphs">2,309.69</text>
<text x="1290.8" y="514.7" font-size="12" fill="#fff" stroke="#fff" stroke-width="0.25" textLength="43.1" lengthAdjust="spacingAndGlyphs">−44.28%</text>
<text x="1290.8" y="528.4" font-size="12" fill="#fff" stroke="#fff" stroke-width="0.25" textLength="46.5" lengthAdjust="spacingAndGlyphs" fill-opacity="0.8">07:47:18</text>
<path d="M1282 489.1V505.7H1226a2 2 0 0 1 -2 -2V491.1a2 2 0 0 1 2 -2Z" fill="#26a69a"/>
<text x="1228.8" y="501.4" font-size="12" fill="#fff" stroke="#fff" stroke-width="0.25" textLength="48.6" lengthAdjust="spacingAndGlyphs">ETHUSDT</text>
<path d="M1283 534.3H1341a2 2 0 0 1 2 2V548.6a2 2 0 0 1 -2 2H1283Z" fill="#2962ff"/>
<text x="1291" y="545.8" font-size="12" fill="#fff" stroke="#fff" stroke-width="0.25" textLength="46.6" lengthAdjust="spacingAndGlyphs">2,252.70</text>
<path d="M1282 534.3V550.6H1253.1a2 2 0 0 1 -2 -2V536.3a2 2 0 0 1 2 -2Z" fill="#2962ff"/>
<text x="1255.9" y="546.5" font-size="12" fill="#fff" stroke="#fff" stroke-width="0.25" textLength="22.5" lengthAdjust="spacingAndGlyphs">EMA</text>
<path d="M1283 551.3H1341a2 2 0 0 1 2 2V565.5a2 2 0 0 1 -2 2H1283Z" fill="#f23645"/>
<text x="1291" y="562.6" font-size="12" fill="#fff" stroke="#fff" stroke-width="0.25" textLength="46.6" lengthAdjust="spacingAndGlyphs">2,143.48</text>
<path d="M1282 551.3V567.5H1234.3a2 2 0 0 1 -2 -2V553.3a2 2 0 0 1 2 -2Z" fill="#f23645"/>
<text x="1236.8" y="563.4" font-size="12" fill="#fff" stroke="#fff" stroke-width="0.25" textLength="41.6" lengthAdjust="spacingAndGlyphs">SMA:MA</text>
<path d="M1283 568.3H1341a2 2 0 0 1 2 2V582.8a2 2 0 0 1 -2 2H1283Z" fill="#0000ff"/>
<text x="1291.8" y="579.6" font-size="12" fill="#fff" stroke="#fff" stroke-width="0.25" textLength="45.8" lengthAdjust="spacingAndGlyphs">1,916.00</text>
<path d="M1283 590.1H1341a2 2 0 0 1 2 2V604.6a2 2 0 0 1 -2 2H1283Z" fill="#0000ff"/>
<text x="1291.8" y="601.4" font-size="12" fill="#fff" stroke="#fff" stroke-width="0.25" textLength="45.8" lengthAdjust="spacingAndGlyphs">1,750.00</text>
<text x="1291.2" y="644.4" font-size="12" fill="#131722" stroke="#131722" stroke-width="0.25" textLength="29" lengthAdjust="spacingAndGlyphs">70.00</text>
<text x="1291.2" y="714.4" font-size="12" fill="#131722" stroke="#131722" stroke-width="0.25" textLength="29" lengthAdjust="spacingAndGlyphs">50.00</text>
<text x="1291.2" y="749.4" font-size="12" fill="#131722" stroke="#131722" stroke-width="0.25" textLength="29" lengthAdjust="spacingAndGlyphs">40.00</text>
<text x="1291.2" y="784.4" font-size="12" fill="#131722" stroke="#131722" stroke-width="0.25" textLength="29" lengthAdjust="spacingAndGlyphs">30.00</text>
<text x="1291.2" y="819.4" font-size="12" fill="#131722" stroke="#131722" stroke-width="0.25" textLength="29" lengthAdjust="spacingAndGlyphs">20.00</text>
<path d="M1283 666.6H1324a2 2 0 0 1 2 2V680.7a2 2 0 0 1 -2 2H1283Z" fill="#fdd835"/>
<path d="M1282 666.6V682.7H1205a2 2 0 0 1 -2 -2V668.6a2 2 0 0 1 2 -2Z" fill="#fdd835"/>
<text x="1207.5" y="678.6" font-size="12" fill="#131722" stroke="#131722" stroke-width="0.25" textLength="70.8" lengthAdjust="spacingAndGlyphs">RSI-based MA</text>
<text x="1291.2" y="678.6" font-size="12" fill="#131722" stroke="#131722" stroke-width="0.25" textLength="29" lengthAdjust="spacingAndGlyphs">59.35</text>
<path d="M1283 682.9H1324a2 2 0 0 1 2 2V697.6a2 2 0 0 1 -2 2H1283Z" fill="#7e57c2"/>
<path d="M1282 682.9V699.6H1259a2 2 0 0 1 -2 -2V684.9a2 2 0 0 1 2 -2Z" fill="#7e57c2"/>
<text x="1261" y="695.3" font-size="12" fill="#fff" stroke="#fff" stroke-width="0.25" textLength="17.5" lengthAdjust="spacingAndGlyphs">RSI</text>
<text x="1291.2" y="695.3" font-size="12" fill="#fff" stroke="#fff" stroke-width="0.25" textLength="29" lengthAdjust="spacingAndGlyphs">55.52</text>
<defs><clipPath id="ta"><rect x="10" y="832" width="1272" height="26"/></clipPath></defs><g clip-path="url(#ta)">
<text x="4.7" y="848.8" font-size="12" fill="#131722" stroke="#131722" stroke-width="0.25" textLength="19.3" lengthAdjust="spacingAndGlyphs">Oct</text>
<text x="187.8" y="848.8" font-size="12" fill="#131722" stroke="#131722" stroke-width="0.25" textLength="19" lengthAdjust="spacingAndGlyphs">Nov</text>
<text x="365.8" y="848.8" font-size="12" fill="#131722" stroke="#131722" stroke-width="0.25" textLength="19.1" lengthAdjust="spacingAndGlyphs">Dec</text>
<text x="545.7" y="848.8" font-size="12" fill="#131722" stroke="#131722" stroke-width="0.25" textLength="27.2" lengthAdjust="spacingAndGlyphs" font-weight="bold">2026</text>
<text x="733.8" y="848.8" font-size="12" fill="#131722" stroke="#131722" stroke-width="0.25" textLength="19.1" lengthAdjust="spacingAndGlyphs">Feb</text>
<text x="899.3" y="848.8" font-size="12" fill="#131722" stroke="#131722" stroke-width="0.25" textLength="20" lengthAdjust="spacingAndGlyphs">Mar</text>
<text x="1084.2" y="848.8" font-size="12" fill="#131722" stroke="#131722" stroke-width="0.25" textLength="18.2" lengthAdjust="spacingAndGlyphs">Apr</text>
<text x="1260.0" y="848.8" font-size="12" fill="#131722" stroke="#131722" stroke-width="0.25" textLength="20.6" lengthAdjust="spacingAndGlyphs">May</text>
</g>
<path d="M1214.95 613.4 A9.8 9.8 0 1 1 1208.8 607.0" fill="none" stroke="#9c27b0" stroke-width="1.5" stroke-linecap="round"/>
<path d="M1207.8 611.3 L1201.6 616.3 H1209.4 L1202.6 621.6" fill="none" stroke="#9c27b0" stroke-width="1.5" stroke-linejoin="round" stroke-linecap="round"/>
<circle cx="1212.5" cy="609.5" r="2.5" fill="#f23645"/>
<g fill="#131722"><path d="M12.3 881.3H24.2V895.8H17.9V886.6H12.3Z"/><circle cx="29.3" cy="883.9" r="2.7"/><path d="M33.4 881.3H41.5L36.4 895.8H29.2Z"/></g>
<text x="49.4" y="895.8" font-size="20" fill="#131722" stroke="#131722" stroke-width="0.25" textLength="120.4" lengthAdjust="spacingAndGlyphs" font-weight="bold">TradingView</text>
</svg></body></html>
